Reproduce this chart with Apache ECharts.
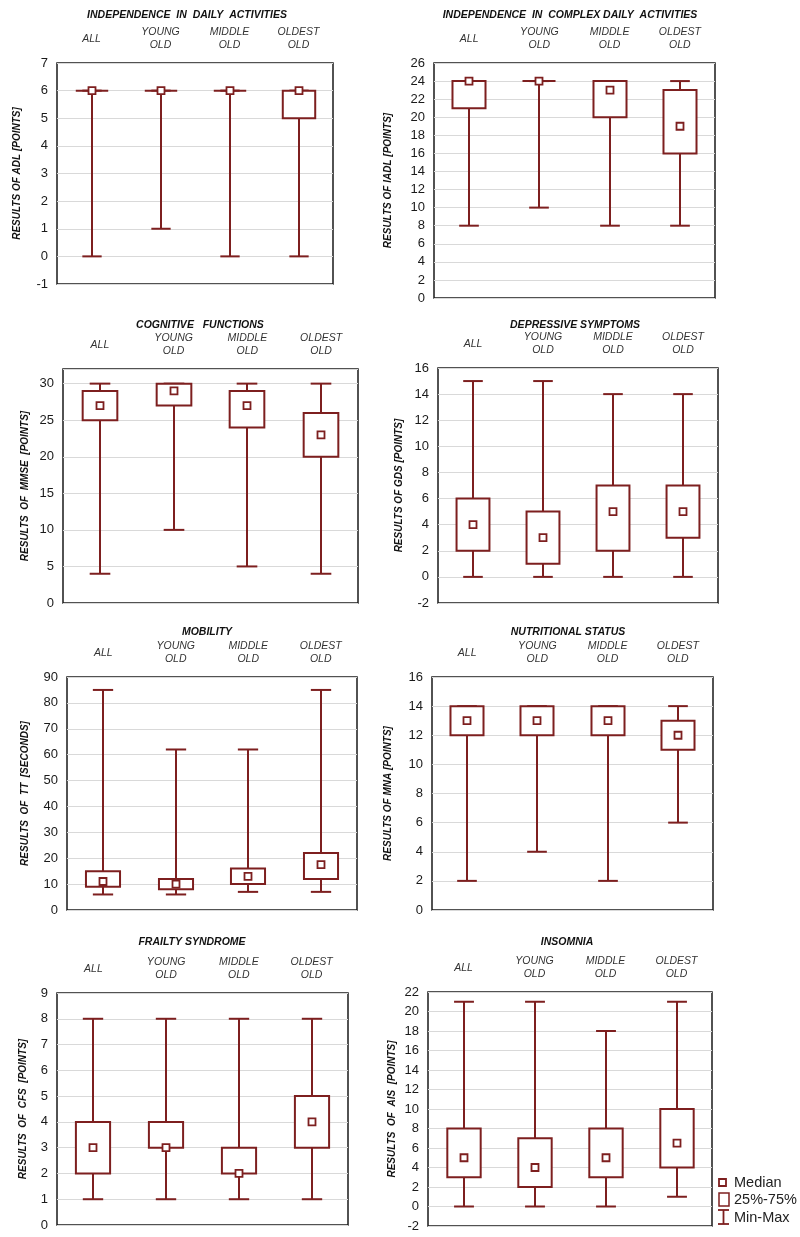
<!DOCTYPE html>
<html>
<head>
<meta charset="utf-8">
<script src="https://cdn.jsdelivr.net/npm/echarts@6/dist/echarts.min.js"></script>
<style>
  html, body { margin: 0; padding: 0; background: #fff; }
  #chart { width: 800px; height: 1237px; }
</style>
</head>
<body>
<div id="chart"></div>
<script>
// age groups (x categories of every panel)
const groups = ['ALL', 'YOUNG\nOLD', 'MIDDLE\nOLD', 'OLDEST\nOLD'];

// each row: min, q1 (25%), median, q3 (75%), max
const adl  = [[0, 6, 6, 6, 6], [1, 6, 6, 6, 6], [0, 6, 6, 6, 6], [0, 5, 6, 6, 6]];
const iadl = [[8, 21, 24, 24, 24], [10, 24, 24, 24, 24], [8, 20, 23, 24, 24], [8, 16, 19, 23, 24]];
const mmse = [[4, 25, 27, 29, 30], [10, 27, 29, 30, 30], [5, 24, 27, 29, 30], [4, 20, 23, 26, 30]];
const gds  = [[0, 2, 4, 6, 15], [0, 1, 3, 5, 15], [0, 2, 5, 7, 14], [0, 3, 5, 7, 14]];
const tt   = [[6, 9, 11, 15, 85], [6, 8, 10, 12, 62], [7, 10, 13, 16, 62], [7, 12, 17.5, 22, 85]];
const mna  = [[2, 12, 13, 14, 14], [4, 12, 13, 14, 14], [2, 12, 13, 14, 14], [6, 11, 12, 13, 14]];
const cfs  = [[1, 2, 3, 4, 8], [1, 3, 3, 4, 8], [1, 2, 2, 3, 8], [1, 3, 4, 5, 8]];
const ais  = [[0, 3, 5, 8, 21], [0, 2, 4, 7, 21], [0, 3, 5, 8, 18], [1, 4, 6.5, 10, 21]];

const panelData = [adl, iadl, mmse, gds, tt, mna, cfs, ais];

const titles = [
  'INDEPENDENCE  IN  DAILY  ACTIVITIES',
  'INDEPENDENCE  IN  COMPLEX DAILY  ACTIVITIES',
  'COGNITIVE   FUNCTIONS',
  'DEPRESSIVE SYMPTOMS',
  'MOBILITY',
  'NUTRITIONAL STATUS',
  'FRAILTY SYNDROME',
  'INSOMNIA'
];
const yNames = [
  'RESULTS OF ADL [POINTS]',
  'RESULTS OF IADL [POINTS]',
  'RESULTS  OF  MMSE  [POINTS]',
  'RESULTS OF GDS [POINTS]',
  'RESULTS  OF  TT  [SECONDS]',
  'RESULTS OF MNA [POINTS]',
  'RESULTS  OF  CFS  [POINTS]',
  'RESULTS  OF  AIS  [POINTS]'
];
// y axis: min, max, step
const yScales = [[-1, 7, 1], [0, 26, 2], [0, 32, 5], [-2, 16, 2], [0, 90, 10], [0, 16, 2], [0, 9, 1], [-2, 22, 2]];

// layout of the 8 panels
const plots = [
  { left: 57,  top: 63,  width: 276, height: 221 },
  { left: 434, top: 63,  width: 281, height: 235 },
  { left: 63,  top: 369, width: 295, height: 234 },
  { left: 438, top: 368, width: 280, height: 235 },
  { left: 67,  top: 677, width: 290, height: 233 },
  { left: 432, top: 677, width: 281, height: 233 },
  { left: 57,  top: 993, width: 291, height: 232 },
  { left: 428, top: 992, width: 284, height: 234 }
];
const titlePos = [[182, 5], [565, 5], [195, 315], [570, 315], [202, 622], [563, 622], [187, 932], [562, 932]];
const nameGaps = [35, 41, 33, 34, 37, 39, 29, 31];

const RED = '#7d1f1f';
const FONT = '"Liberation Sans", Arial, sans-serif';

function drawBox(params, api) {
  const i = api.value(0);
  const pMin = api.coord([i, api.value(1)]);
  const pQ1 = api.coord([i, api.value(2)]);
  const pMed = api.coord([i, api.value(3)]);
  const pQ3 = api.coord([i, api.value(4)]);
  const pMax = api.coord([i, api.value(5)]);
  const band = api.size([1, 0])[0];
  const x = Math.round(pMin[0]);
  const bw = band * 0.47;
  const cw = band * 0.28;
  const ln = { stroke: RED, lineWidth: 2 };
  return {
    type: 'group',
    children: [
      { type: 'line', shape: { x1: x, y1: pMax[1], x2: x, y2: pMin[1] }, style: ln },
      { type: 'line', shape: { x1: x - cw / 2, y1: pMax[1], x2: x + cw / 2, y2: pMax[1] }, style: ln },
      { type: 'line', shape: { x1: x - cw / 2, y1: pMin[1], x2: x + cw / 2, y2: pMin[1] }, style: ln },
      { type: 'rect', shape: { x: x - bw / 2, y: pQ3[1], width: bw, height: pQ1[1] - pQ3[1] },
        style: { fill: '#fff', stroke: RED, lineWidth: 2 } },
      { type: 'rect', shape: { x: x - 3.5, y: pMed[1] - 3.5, width: 7, height: 7 },
        style: { fill: '#fff', stroke: RED, lineWidth: 1.8 } }
    ]
  };
}

const grid = [], xAxis = [], yAxis = [], series = [], title = [];
panelData.forEach((rows, k) => {
  const [ymin, ymax, step] = yScales[k];
  grid.push(Object.assign({ show: true, borderColor: '#1a1a1a', borderWidth: 1.5 }, plots[k]));
  xAxis.push({
    gridIndex: k, type: 'category', position: 'top', data: groups,
    axisLine: { show: false }, axisTick: { show: false }, splitLine: { show: false },
    axisLabel: { margin: 24, verticalAlign: 'middle', fontStyle: 'italic', fontSize: 10.5,
      lineHeight: 13, color: '#333', fontFamily: FONT }
  });
  yAxis.push({
    gridIndex: k, type: 'value', min: ymin, max: ymax, interval: step,
    name: yNames[k], nameLocation: 'middle', nameGap: nameGaps[k],
    nameTextStyle: { fontStyle: 'italic', fontWeight: 'bold', fontSize: 10, color: '#111', fontFamily: FONT },
    axisLine: { show: false }, axisTick: { show: false },
    splitLine: { lineStyle: { color: '#d9d9d9', width: 1 } },
    axisLabel: { fontSize: 13, color: '#1a1a1a', margin: 9, fontFamily: FONT,
      showMaxLabel: (ymax - ymin) % step === 0 }
  });
  series.push({
    type: 'custom', xAxisIndex: k, yAxisIndex: k, renderItem: drawBox,
    encode: { x: 0, y: [1, 2, 3, 4, 5] },
    data: rows.map((r, i) => [i].concat(r))
  });
  title.push({
    text: titles[k], left: titlePos[k][0], top: titlePos[k][1], textAlign: 'center',
    textStyle: { fontSize: 10.5, fontStyle: 'italic', fontWeight: 'bold', color: '#111', fontFamily: FONT }
  });
});

const legendText = { fontSize: 14.5, fill: '#222', fontFamily: FONT, verticalAlign: 'middle' };

const chart = echarts.init(document.getElementById('chart'));
chart.setOption({
  backgroundColor: '#fff',
  animation: false,
  title: title,
  grid: grid,
  xAxis: xAxis,
  yAxis: yAxis,
  series: series,
  graphic: [
    { type: 'rect', shape: { x: 719, y: 1179, width: 7, height: 7 }, style: { fill: '#fff', stroke: RED, lineWidth: 1.8 } },
    { type: 'text', x: 734, y: 1183, style: Object.assign({ text: 'Median' }, legendText) },
    { type: 'rect', shape: { x: 719, y: 1193, width: 10, height: 13 }, style: { fill: '#fff', stroke: RED, lineWidth: 1.5 } },
    { type: 'text', x: 734, y: 1200, style: Object.assign({ text: '25%-75%' }, legendText) },
    { type: 'line', shape: { x1: 723.5, y1: 1210, x2: 723.5, y2: 1224 }, style: { stroke: RED, lineWidth: 1.8 } },
    { type: 'line', shape: { x1: 718, y1: 1210, x2: 729, y2: 1210 }, style: { stroke: RED, lineWidth: 1.8 } },
    { type: 'line', shape: { x1: 718, y1: 1224, x2: 729, y2: 1224 }, style: { stroke: RED, lineWidth: 1.8 } },
    { type: 'text', x: 734, y: 1218, style: Object.assign({ text: 'Min-Max' }, legendText) }
  ]
});
</script>
</body>
</html>
